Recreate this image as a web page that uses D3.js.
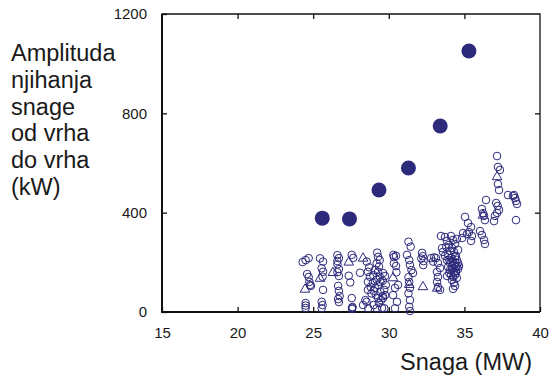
<!DOCTYPE html>
<html>
<head>
<meta charset="utf-8">
<script src="https://cdn.jsdelivr.net/npm/d3@7"></script>
<style>
  html, body { margin: 0; padding: 0; background: #fff; }
  svg { display: block; font-family: "Liberation Sans", Arial, sans-serif; }
</style>
</head>
<body>
<svg id="chart" width="551" height="376"></svg>
<script>
// Axis ticks
const xTicks = [15, 20, 25, 30, 35, 40];
const yTicks = [0, 400, 800, 1200];

// Highlighted measurements (filled markers): power MW, amplitude kW
const peakPower = [25.6, 27.4, 29.35, 31.3, 33.4, 35.3];
const peakAmp   = [378, 375, 491, 580, 749, 1051];

// Regular measurements (open circles): [MW, kW]
const circlePoints = [
  [24.3,201],[24.5,209],[24.7,217],[24.6,153],[24.7,141],[24.75,121],[24.8,109],[24.85,105],
  [24.5,36],[24.5,26],[24.5,16],
  [25.45,216],[25.65,203],[25.56,176],[25.65,162],[25.62,142],[25.65,89],[25.56,41],[25.62,28],[25.56,15],
  [26.6,229],[26.7,217],[26.6,205],[26.7,173],[26.6,160],[26.7,145],[26.65,105],[26.7,85],[26.75,64],[26.7,40],
  [26.65,52],[26.6,192],
  [27.55,230],[27.65,218],[27.35,146],[27.45,119],[27.55,56],[27.57,17],[27.57,12],[27.6,20],
  [28.1,158],[28.54,203],[28.62,162],[28.75,142],[28.62,121],[28.8,101],[28.62,89],[28.85,75],
  [28.3,28],[28.53,41],[28.64,15],[28.45,48],[28.7,180],
  [29.23,239],[29.29,222],[29.4,209],[29.2,196],[29.35,183],[29.09,169],[28.97,149],[29.29,162],
  [29.4,142],[29.45,121],[29.29,109],[28.95,117],[29.09,97],[29.0,85],[29.15,68],[29.3,56],
  [29.5,48],[29.6,64],[29.35,36],[29.2,15],[29.55,16],[29.0,28],[29.45,80],[29.2,130],
  [29.62,157],[29.75,145],[29.6,125],[29.8,109],[29.7,89],[29.75,68],[29.62,56],[29.7,15],
  [30.3,230],[30.48,226],[30.34,196],[30.48,185],[30.34,221],[30.61,109],[30.41,97],[30.28,68],
  [30.54,41],[30.41,15],[30.5,160],
  [31.3,283],[31.45,263],[31.2,230],[31.35,209],[31.4,189],[31.5,169],[31.6,157],
  [31.35,121],[31.4,97],[31.3,75],[31.4,48],[31.35,21],[31.4,4],[31.3,140],
  [32.2,238],[32.25,225],[32.3,205],[32.28,189],[32.15,215],
  [32.8,217],[32.93,203],[33.12,217],[33.25,197],[33.39,177],[33.45,306],[33.52,257],[33.58,242],
  [33.19,161],[33.25,141],[33.19,121],[33.25,101],[33.39,89],[33.0,220],
  [33.72,302],[33.85,286],[33.98,270],[34.11,306],[34.25,290],[34.38,274],[34.5,294],[34.18,258],
  [34.05,246],[33.92,230],[34.31,242],[34.44,226],[34.58,250],[34.11,218],[34.25,206],[34.38,222],
  [34.5,210],[34.05,197],[34.18,185],[34.31,193],[34.44,181],[34.58,197],[33.92,181],[34.05,169],
  [34.18,173],[34.31,161],[34.44,165],[34.58,173],[34.0,157],[34.11,149],[34.25,141],[34.38,149],
  [34.5,137],[33.85,145],[34.18,129],[34.31,117],[34.38,105],[34.25,93],[34.44,157],[34.64,185],
  [33.72,226],[33.85,209],[33.8,262],[34.0,210],[34.3,175],[34.15,200],[34.5,185],[34.4,200],
  [35.04,383],[35.24,358],[35.44,342],[35.3,322],[35.17,314],[34.91,318],[34.85,298],[35.5,306],[35.44,286],
  [36.43,451],[36.16,415],[36.23,398],[36.3,387],[36.36,370],[36.03,326],[36.16,310],[36.3,290],[36.36,274],
  [37.16,628],[37.22,584],[37.35,572],[37.22,515],[37.29,491],
  [37.1,439],[37.2,427],[37.29,411],[37.16,399],[37.02,387],[36.96,366],
  [37.88,471],[38.21,467],[38.35,459],[38.41,447],[38.48,435],[38.28,471],[38.41,370]
];

// Regular measurements (open triangles): [MW, kW]
const trianglePoints = [
  [24.46,91],[25.45,135],[26.3,158],[27.35,200],[28.3,216],[30.28,137],[31.35,110],
  [32.26,101],[33.2,95],[36.23,389],[37.16,544]
];

const ink = "#2d2a7c";
const textColor = "#1a1a1a";

const svg = d3.select("#chart");
const plotLeft = 162, plotRight = 540, plotTop = 14, plotBottom = 312;

const x = d3.scaleLinear().domain([15, 40]).range([plotLeft, plotRight]);
const y = d3.scaleLinear().domain([0, 1200]).range([plotBottom, plotTop]);

// Bottom axis with inward ticks
const xAxis = svg.append("g")
  .attr("transform", `translate(0,${plotBottom})`)
  .call(d3.axisBottom(x).tickValues(xTicks).tickSizeInner(-5).tickSizeOuter(0).tickPadding(15));
xAxis.select(".domain").remove();

// Top axis ticks only
const xAxisTop = svg.append("g")
  .attr("transform", `translate(0,${plotTop})`)
  .call(d3.axisTop(x).tickValues(xTicks.slice(1, -1)).tickSizeInner(-5).tickSizeOuter(0).tickFormat(""));
xAxisTop.select(".domain").remove();

// Left axis with inward ticks
const yAxis = svg.append("g")
  .attr("transform", `translate(${plotLeft},0)`)
  .call(d3.axisLeft(y).tickValues(yTicks).tickFormat(d3.format("d"))
    .tickSizeInner(-5).tickSizeOuter(0).tickPadding(15));
yAxis.select(".domain").remove();

// Right axis ticks only
const yAxisRight = svg.append("g")
  .attr("transform", `translate(${plotRight},0)`)
  .call(d3.axisRight(y).tickValues(yTicks.slice(1, -1)).tickSizeInner(-5).tickSizeOuter(0).tickFormat(""));
yAxisRight.select(".domain").remove();

svg.selectAll(".tick line").attr("stroke", "#111").attr("stroke-width", 1.3);
svg.selectAll(".tick text")
  .attr("fill", textColor)
  .style("font-size", "15px")
  .style("font-family", "'Liberation Sans', Arial, sans-serif");

// Plot frame
svg.append("path")
  .attr("d", `M${plotLeft},${plotTop}H${plotRight}V${plotBottom}`)
  .attr("fill", "none").attr("stroke", "#111").attr("stroke-width", 1.3);
svg.append("path")
  .attr("d", `M${plotLeft},${plotTop - 0.5}V${plotBottom}H${plotRight}`)
  .attr("fill", "none").attr("stroke", "#111").attr("stroke-width", 2);

// Open circles
svg.append("g").selectAll("circle")
  .data(circlePoints)
  .join("circle")
  .attr("cx", d => x(d[0]))
  .attr("cy", d => y(d[1]))
  .attr("r", 3.8)
  .attr("fill", "none")
  .attr("stroke", ink)
  .attr("stroke-width", 1);

// Open triangles
const tri = d3.symbol().type(d3.symbolTriangle).size(40);
svg.append("g").selectAll("path")
  .data(trianglePoints)
  .join("path")
  .attr("d", tri)
  .attr("transform", d => `translate(${x(d[0])},${y(d[1])})`)
  .attr("fill", "none")
  .attr("stroke", ink)
  .attr("stroke-width", 1);

// Filled highlighted markers
svg.append("g").selectAll("circle")
  .data(peakPower.map((p, i) => [p, peakAmp[i]]))
  .join("circle")
  .attr("cx", d => x(d[0]))
  .attr("cy", d => y(d[1]))
  .attr("r", 7.5)
  .attr("fill", ink);

// Axis titles
const yTitle = ["Amplituda", "njihanja", "snage", "od vrha", "do vrha", "(kW)"];
svg.append("text")
  .attr("fill", textColor)
  .style("font-size", "23.5px")
  .selectAll("tspan")
  .data(yTitle)
  .join("tspan")
  .attr("x", 11)
  .attr("y", (d, i) => 61 + i * 26.8)
  .text(d => d);

svg.append("text")
  .attr("x", 532)
  .attr("y", 370)
  .attr("text-anchor", "end")
  .attr("fill", textColor)
  .style("font-size", "23.5px")
  .text("Snaga (MW)");
</script>
</body>
</html>
